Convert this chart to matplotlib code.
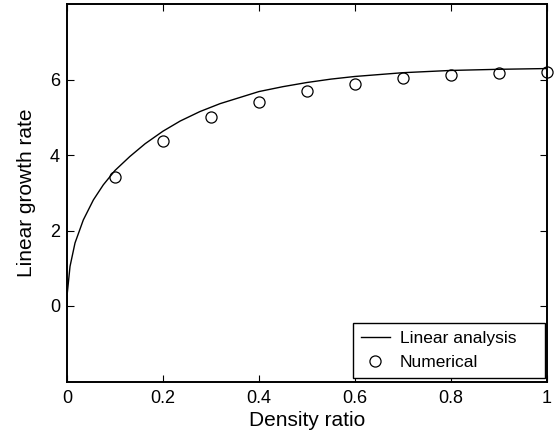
import matplotlib
matplotlib.use("Agg")
import matplotlib.pyplot as plt

plt.rcParams['font.family'] = ['Liberation Sans', 'DejaVu Sans']

# Linear analysis curve
lin_x = [0.0, 0.0006, 0.0063, 0.0167, 0.034, 0.055, 0.0757, 0.1, 0.131, 0.163,
         0.2, 0.236, 0.277, 0.319, 0.4, 0.45, 0.5, 0.55, 0.6, 0.7, 0.8, 0.9, 1.0]
lin_y = [0.0, 0.34, 1.05, 1.67, 2.28, 2.81, 3.21, 3.59, 3.96, 4.30,
         4.63, 4.90, 5.15, 5.36, 5.68, 5.81, 5.92, 6.01, 6.08, 6.18, 6.24, 6.27, 6.29]

# Numerical results
num_x = [0.1, 0.2, 0.3, 0.4, 0.5, 0.6, 0.7, 0.8, 0.9, 1.0]
num_y = [3.43, 4.37, 5.00, 5.41, 5.69, 5.89, 6.03, 6.11, 6.17, 6.21]

fig = plt.figure(figsize=(5.56, 4.38), dpi=100)
ax = fig.add_axes([67/556, 1 - 381.5/438, (546.7-67)/556, (381.5-4)/438])

ax.plot(lin_x, lin_y, color='black', linewidth=1.0, label='Linear analysis')
ax.plot(num_x, num_y, linestyle='none', marker='o', markersize=8,
        markerfacecolor='none', markeredgecolor='black', markeredgewidth=0.9,
        label='Numerical', clip_on=False)

ax.set_xlim(0, 1)
ax.set_ylim(-2, 8)
ax.set_xticks([0, 0.2, 0.4, 0.6, 0.8, 1])
ax.set_xticklabels(['0', '0.2', '0.4', '0.6', '0.8', '1'])
ax.set_yticks([0, 2, 4, 6])
ax.tick_params(direction='in', top=True, right=True, length=5, width=0.8,
               labelsize=13)
ax.tick_params(axis='x', pad=6)
ax.tick_params(axis='y', pad=5)
for s in ax.spines.values():
    s.set_linewidth(1.4)

ax.set_xlabel('Density ratio', fontsize=15, labelpad=3)
ax.set_ylabel('Linear growth rate', fontsize=15, labelpad=10)

leg = ax.legend(loc='lower left', bbox_to_anchor=(0.596, 0.0093, 0.4005, 0.148),
                mode='expand', fontsize=12.5, frameon=True, fancybox=False,
                edgecolor='black', framealpha=1, borderaxespad=0,
                handlelength=1.7, handletextpad=0.57, borderpad=0.45,
                labelspacing=0.5)
leg.get_frame().set_linewidth(1.0)

fig.savefig('out.png', dpi=100)
